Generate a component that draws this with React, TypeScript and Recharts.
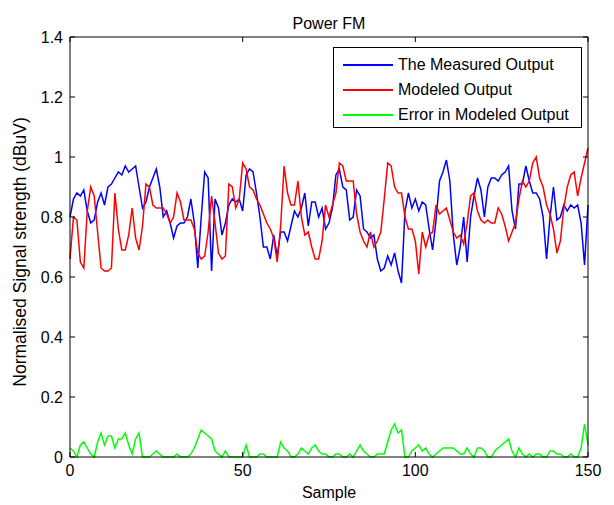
import { LineChart, Line, XAxis, YAxis, Legend } from "recharts";

// sample index 0..150
const SAMPLES = Array.from({ length: 151 }, (_, i) => i);

const MEASURED = [
  0.8, 0.86, 0.88, 0.87, 0.89, 0.82, 0.78, 0.79, 0.85, 0.88,
  0.84, 0.9, 0.91, 0.93, 0.95, 0.94, 0.97, 0.95, 0.96, 0.97,
  0.9, 0.83, 0.85, 0.9, 0.93, 0.96, 0.9, 0.8, 0.82, 0.78,
  0.73, 0.77, 0.78, 0.78, 0.8, 0.86, 0.78, 0.63, 0.8, 0.95,
  0.93, 0.62, 0.86, 0.83, 0.74, 0.78, 0.84, 0.86, 0.85, 0.86,
  0.82, 0.94, 0.96, 0.95, 0.88, 0.8, 0.7, 0.7, 0.66, 0.74,
  0.67, 0.75, 0.75, 0.72, 0.77, 0.82, 0.8, 0.83, 0.88, 0.77,
  0.85, 0.85, 0.8, 0.83, 0.76, 0.78, 0.83, 0.94, 0.96, 0.9,
  0.89, 0.79, 0.8, 0.89, 0.87, 0.76, 0.75, 0.73, 0.74, 0.66,
  0.62, 0.63, 0.67, 0.64, 0.68, 0.62, 0.58, 0.82, 0.88, 0.83,
  0.86, 0.82, 0.85, 0.84, 0.76, 0.69, 0.79, 0.92, 0.95, 0.99,
  0.92, 0.74, 0.64, 0.7, 0.8, 0.65, 0.8, 0.87, 0.93, 0.89,
  0.8, 0.9, 0.93, 0.93, 0.92, 0.94, 0.95, 0.97, 0.82, 0.76,
  0.91, 0.91, 0.97, 0.92, 0.88, 0.88, 0.86, 0.8, 0.66, 0.8,
  0.9, 0.79, 0.8, 0.84, 0.82, 0.84, 0.83, 0.84, 0.78, 0.64,
  0.84,
];

const MODELED = [
  0.66, 0.8, 0.79, 0.65, 0.63, 0.82, 0.9, 0.87, 0.75, 0.63,
  0.62, 0.62, 0.63, 0.88, 0.76, 0.69, 0.69, 0.74, 0.83, 0.73,
  0.69, 0.77, 0.91, 0.9, 0.84, 0.83, 0.83, 0.83, 0.81, 0.78,
  0.8, 0.88, 0.85, 0.79, 0.79, 0.79, 0.76, 0.68, 0.66, 0.67,
  0.75, 0.87, 0.78, 0.68, 0.66, 0.67, 0.91, 0.9, 0.83, 0.86,
  0.98, 0.96, 0.9, 0.89, 0.86, 0.84, 0.81, 0.78, 0.76, 0.73,
  0.65, 0.77, 0.97, 0.88, 0.84, 0.84, 0.92, 0.8, 0.74, 0.75,
  0.7, 0.66, 0.66, 0.72, 0.84, 0.8, 0.84, 0.88, 0.98, 0.97,
  0.92, 0.92, 0.92, 0.81, 0.75, 0.72, 0.7, 0.75, 0.7, 0.72,
  0.75, 0.86, 0.98, 0.97, 0.9, 0.88, 0.88, 0.8, 0.76, 0.76,
  0.72, 0.61, 0.75, 0.7, 0.74, 0.75, 0.84, 0.81, 0.82, 0.83,
  0.79, 0.75, 0.73, 0.74, 0.71, 0.78, 0.87, 0.88, 0.82, 0.79,
  0.78, 0.79, 0.78, 0.78, 0.83, 0.81, 0.77, 0.72, 0.75, 0.78,
  0.86, 0.92, 0.9, 0.92, 0.98, 1.0, 0.93, 0.9, 0.84, 0.81,
  0.76, 0.68, 0.72, 0.83, 0.9, 0.94, 0.95, 0.87, 0.93, 0.98,
  1.03,
];

const ERROR = [
  0.03, 0.02, 0.0, 0.04, 0.05, 0.03, 0.01, 0.0, 0.05, 0.08,
  0.04, 0.07, 0.07, 0.03, 0.06, 0.06, 0.08, 0.04, 0.01, 0.06,
  0.08, 0.0, 0.0, 0.0, 0.01, 0.02, 0.01, 0.0, 0.0, 0.0,
  0.0, 0.01, 0.0, 0.0, 0.0, 0.01, 0.03, 0.06, 0.09, 0.08,
  0.07, 0.06, 0.02, 0.01, 0.0, 0.02, 0.0, 0.0, 0.0, 0.0,
  0.0, 0.04, 0.0, 0.0, 0.0, 0.01, 0.01, 0.0, 0.0, 0.0,
  0.0, 0.05, 0.03, 0.02, 0.0, 0.0, 0.01, 0.03, 0.02, 0.01,
  0.03, 0.04, 0.02, 0.01, 0.01, 0.0, 0.0, 0.01, 0.01, 0.0,
  0.0, 0.01, 0.0, 0.02, 0.04, 0.02, 0.01, 0.0, 0.0, 0.01,
  0.01, 0.01, 0.05, 0.09, 0.11, 0.08, 0.09, 0.0, 0.0, 0.02,
  0.03, 0.04, 0.02, 0.03, 0.01, 0.0, 0.01, 0.02, 0.03, 0.03,
  0.03, 0.03, 0.02, 0.01, 0.01, 0.03, 0.01, 0.0, 0.03, 0.03,
  0.02, 0.0, 0.0, 0.02, 0.03, 0.04, 0.05, 0.06, 0.02, 0.0,
  0.03, 0.01, 0.0, 0.01, 0.0, 0.01, 0.01, 0.0, 0.0, 0.02,
  0.02, 0.01, 0.01, 0.0, 0.0, 0.01, 0.0, 0.0, 0.03, 0.11,
  0.04,
];

const SERIES_NAMES = ["The Measured Output", "Modeled Output", "Error in Modeled Output"];
const SERIES_COLORS = ["#0000ff", "#ff0000", "#00ff00"];

const X_TICKS = [0, 50, 100, 150];
const Y_TICKS = [0, 0.2, 0.4, 0.6, 0.8, 1, 1.2, 1.4];

const W = 614, H = 505;
const PLOT_LEFT = 70, PLOT_RIGHT = 588, PLOT_TOP = 37, PLOT_BOTTOM = 457;
const FONT = "'Liberation Sans', Arial, sans-serif";
const LINE_W = 1.5;

const data = SAMPLES.map((s, i) => ({
  sample: s,
  measured: MEASURED[i],
  modeled: MODELED[i],
  error: ERROR[i],
}));

const textStyle = { fontFamily: FONT, fontSize: 16, fill: "#000" };

const BottomTick = ({ x, payload }: any) => (
  <g>
    <line x1={x} x2={x} y1={PLOT_BOTTOM} y2={PLOT_BOTTOM - 5} stroke="#000" />
    <text x={x} y={PLOT_BOTTOM + 19} textAnchor="middle" style={textStyle}>{payload.value}</text>
  </g>
);
const TopTick = ({ x }: any) => (
  <line x1={x} x2={x} y1={PLOT_TOP} y2={PLOT_TOP + 5} stroke="#000" />
);
const LeftTick = ({ y, payload }: any) => (
  <g>
    <line x1={PLOT_LEFT} x2={PLOT_LEFT + 5} y1={y} y2={y} stroke="#000" />
    <text x={PLOT_LEFT - 7} y={y} dy={6} textAnchor="end" style={textStyle}>{payload.value}</text>
  </g>
);
const RightTick = ({ y }: any) => (
  <line x1={PLOT_RIGHT - 5} x2={PLOT_RIGHT} y1={y} y2={y} stroke="#000" />
);

const TitleLabel = () => (
  <text x={(PLOT_LEFT + PLOT_RIGHT) / 2} y={29} textAnchor="middle" style={textStyle}>Power FM</text>
);
const XLabel = () => (
  <text x={(PLOT_LEFT + PLOT_RIGHT) / 2} y={498} textAnchor="middle" style={textStyle}>Sample</text>
);
const YLabel = () => {
  const cy = 252;
  return (
    <text x={20} y={cy} dy="0.35em" textAnchor="middle" transform={`rotate(-90, 20, ${cy})`}
      style={{ ...textStyle, fontSize: 17.5 }}>
      Normalised Signal strength (dBuV)
    </text>
  );
};

const LegendBox = () => (
  <div style={{ border: "1px solid #000", background: "#fff", height: 81, boxSizing: "border-box",
    paddingTop: 4, fontFamily: FONT, fontSize: 16, color: "#000" }}>
    {SERIES_NAMES.map((name, i) => (
      <div key={name} style={{ height: 25, display: "flex", alignItems: "center" }}>
        <div style={{ marginLeft: 9, width: 50, borderTop: `2px solid ${SERIES_COLORS[i]}` }} />
        <span style={{ marginLeft: 5, whiteSpace: "nowrap" }}>{name}</span>
      </div>
    ))}
  </div>
);

export default function App() {
  return (
    <div style={{ position: "absolute", left: 0, top: 0, width: W, height: H, background: "#fff" }}>
      <LineChart width={W} height={H} data={data}
        margin={{ top: PLOT_TOP - 1, right: W - PLOT_RIGHT - 1, bottom: 18, left: 0 }}>
        <XAxis dataKey="sample" type="number" domain={[0, 150]} ticks={X_TICKS} height={30}
          axisLine={{ stroke: "#000" }} tickLine={false} tick={<BottomTick />} label={<XLabel />} />
        <XAxis xAxisId="top" orientation="top" dataKey="sample" type="number" domain={[0, 150]}
          ticks={X_TICKS} height={1} axisLine={{ stroke: "#000" }} tickLine={false}
          tick={<TopTick />} label={<TitleLabel />} />
        <YAxis type="number" domain={[0, 1.4]} ticks={Y_TICKS} width={PLOT_LEFT}
          axisLine={{ stroke: "#000" }} tickLine={false} tick={<LeftTick />} label={<YLabel />} />
        <YAxis yAxisId="right" orientation="right" type="number" domain={[0, 1.4]} ticks={Y_TICKS}
          width={1} axisLine={{ stroke: "#000" }} tickLine={false} tick={<RightTick />} />
        <Legend layout="vertical" align="center" verticalAlign="middle" content={<LegendBox />}
          wrapperStyle={{ left: 333, top: 47, width: 249 }} />
        <Line name={SERIES_NAMES[0]} dataKey="measured" stroke={SERIES_COLORS[0]} strokeWidth={LINE_W}
          dot={false} type="linear" isAnimationActive={false} />
        <Line name={SERIES_NAMES[1]} dataKey="modeled" stroke={SERIES_COLORS[1]} strokeWidth={LINE_W}
          dot={false} type="linear" isAnimationActive={false} />
        <Line name={SERIES_NAMES[2]} dataKey="error" xAxisId="top" yAxisId="right"
          stroke={SERIES_COLORS[2]} strokeWidth={LINE_W}
          dot={false} type="linear" isAnimationActive={false} />
      </LineChart>
    </div>
  );
}
